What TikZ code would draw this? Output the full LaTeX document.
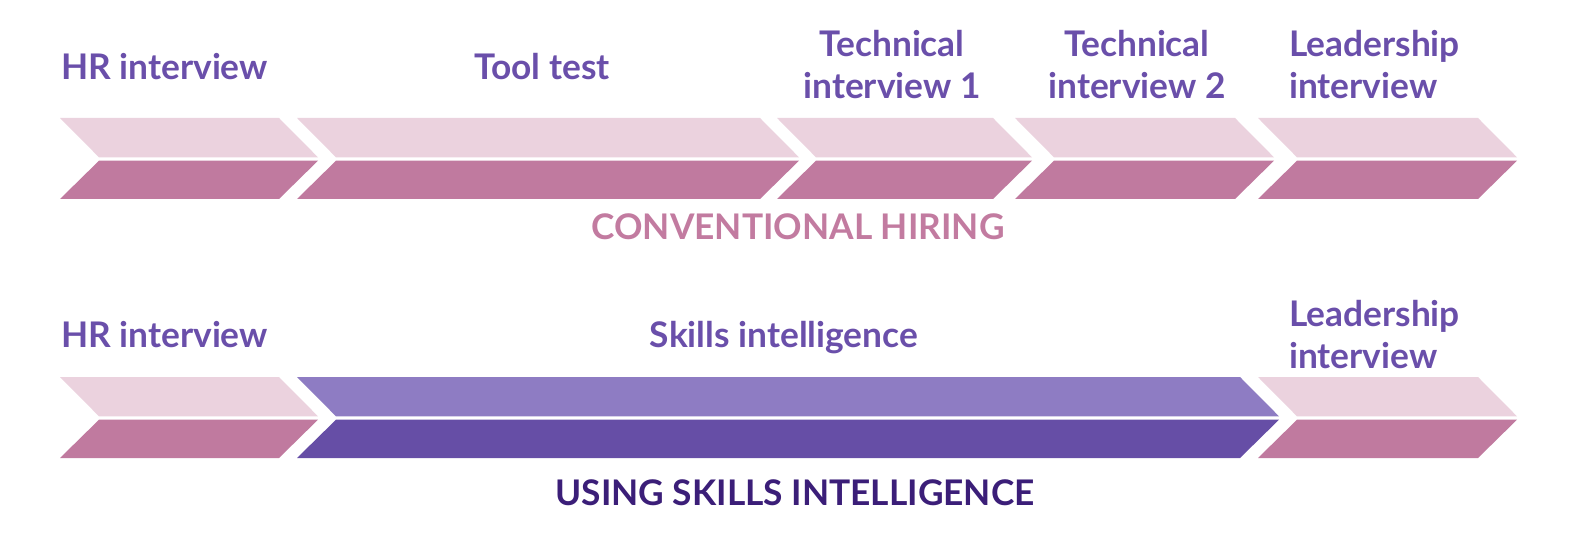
\documentclass[tikz,border=0pt]{standalone}
\usepackage{fontspec}
\setmainfont{Lato}
\definecolor{pinkL}{HTML}{EBD2DE}
\definecolor{pinkD}{HTML}{C07A9F}
\definecolor{purpL}{HTML}{8E7CC3}
\definecolor{purpD}{HTML}{664EA6}
\definecolor{labelC}{HTML}{6A4FAA}
\definecolor{convC}{HTML}{C27BA0}
\definecolor{skillC}{HTML}{3B1E78}
\tikzset{
  lbl/.style={inner sep=0pt, text=labelC, font=\bfseries\fontsize{35.3}{42}\selectfont},
  ttl/.style={inner sep=0pt, font=\bfseries\fontsize{35.3}{42}\selectfont},
}
% chevron: #1 L, #2 R, #3 top y, #4 light colour, #5 dark colour
\newcommand{\chev}[5]{%
  \fill[#4] (#1,#3) -- (#2,#3) -- ({#2+39},{#3+39.3}) -- ({#1+39},{#3+39.3}) -- cycle;
  \fill[#5] ({#1+39},{#3+42.7}) -- ({#2+39},{#3+42.7}) -- (#2,{#3+81}) -- (#1,{#3+81}) -- cycle;
}
\begin{document}
\begin{tikzpicture}[x=1pt,y=-1pt]
\useasboundingbox (0,0) rectangle (1576,545);
% row 1
\chev{60}{279}{118}{pinkL}{pinkD}
\chev{297}{760}{118}{pinkL}{pinkD}
\chev{777}{993}{118}{pinkL}{pinkD}
\chev{1015}{1235}{118}{pinkL}{pinkD}
\chev{1258}{1478}{118}{pinkL}{pinkD}
% row 2
\chev{60}{279}{377}{pinkL}{pinkD}
\chev{297}{1240}{377}{purpL}{purpD}
\chev{1258}{1478}{377}{pinkL}{pinkD}
% labels row 1
\node[lbl, anchor=base west] (hr1) at (61,80) {HR interview};
\node[lbl, anchor=base] (tool) at (542,80) {Tool test};
\node[lbl, anchor=base, align=center] (tech1) at (892,99) {Technical\\interview 1};
\node[lbl, anchor=base, align=center] (tech2) at (1137,99) {Technical\\interview 2};
\node[lbl, anchor=base west, align=left] (lead1) at (1289,99) {Leadership\\interview};
\node[ttl, text=convC, anchor=base] (conv) at (798,240) {CONVENTIONAL HIRING};
% labels row 2
\node[lbl, anchor=base west] (hr2) at (61,347) {HR interview};
\node[lbl, anchor=base] (skills) at (784,347) {Skills intelligence};
\node[lbl, anchor=base west, align=left] (lead2) at (1289,368) {Leadership\\interview};
\node[ttl, text=skillC, anchor=base] (using) at (795,505) {USING SKILLS INTELLIGENCE};
\end{tikzpicture}
\end{document}
